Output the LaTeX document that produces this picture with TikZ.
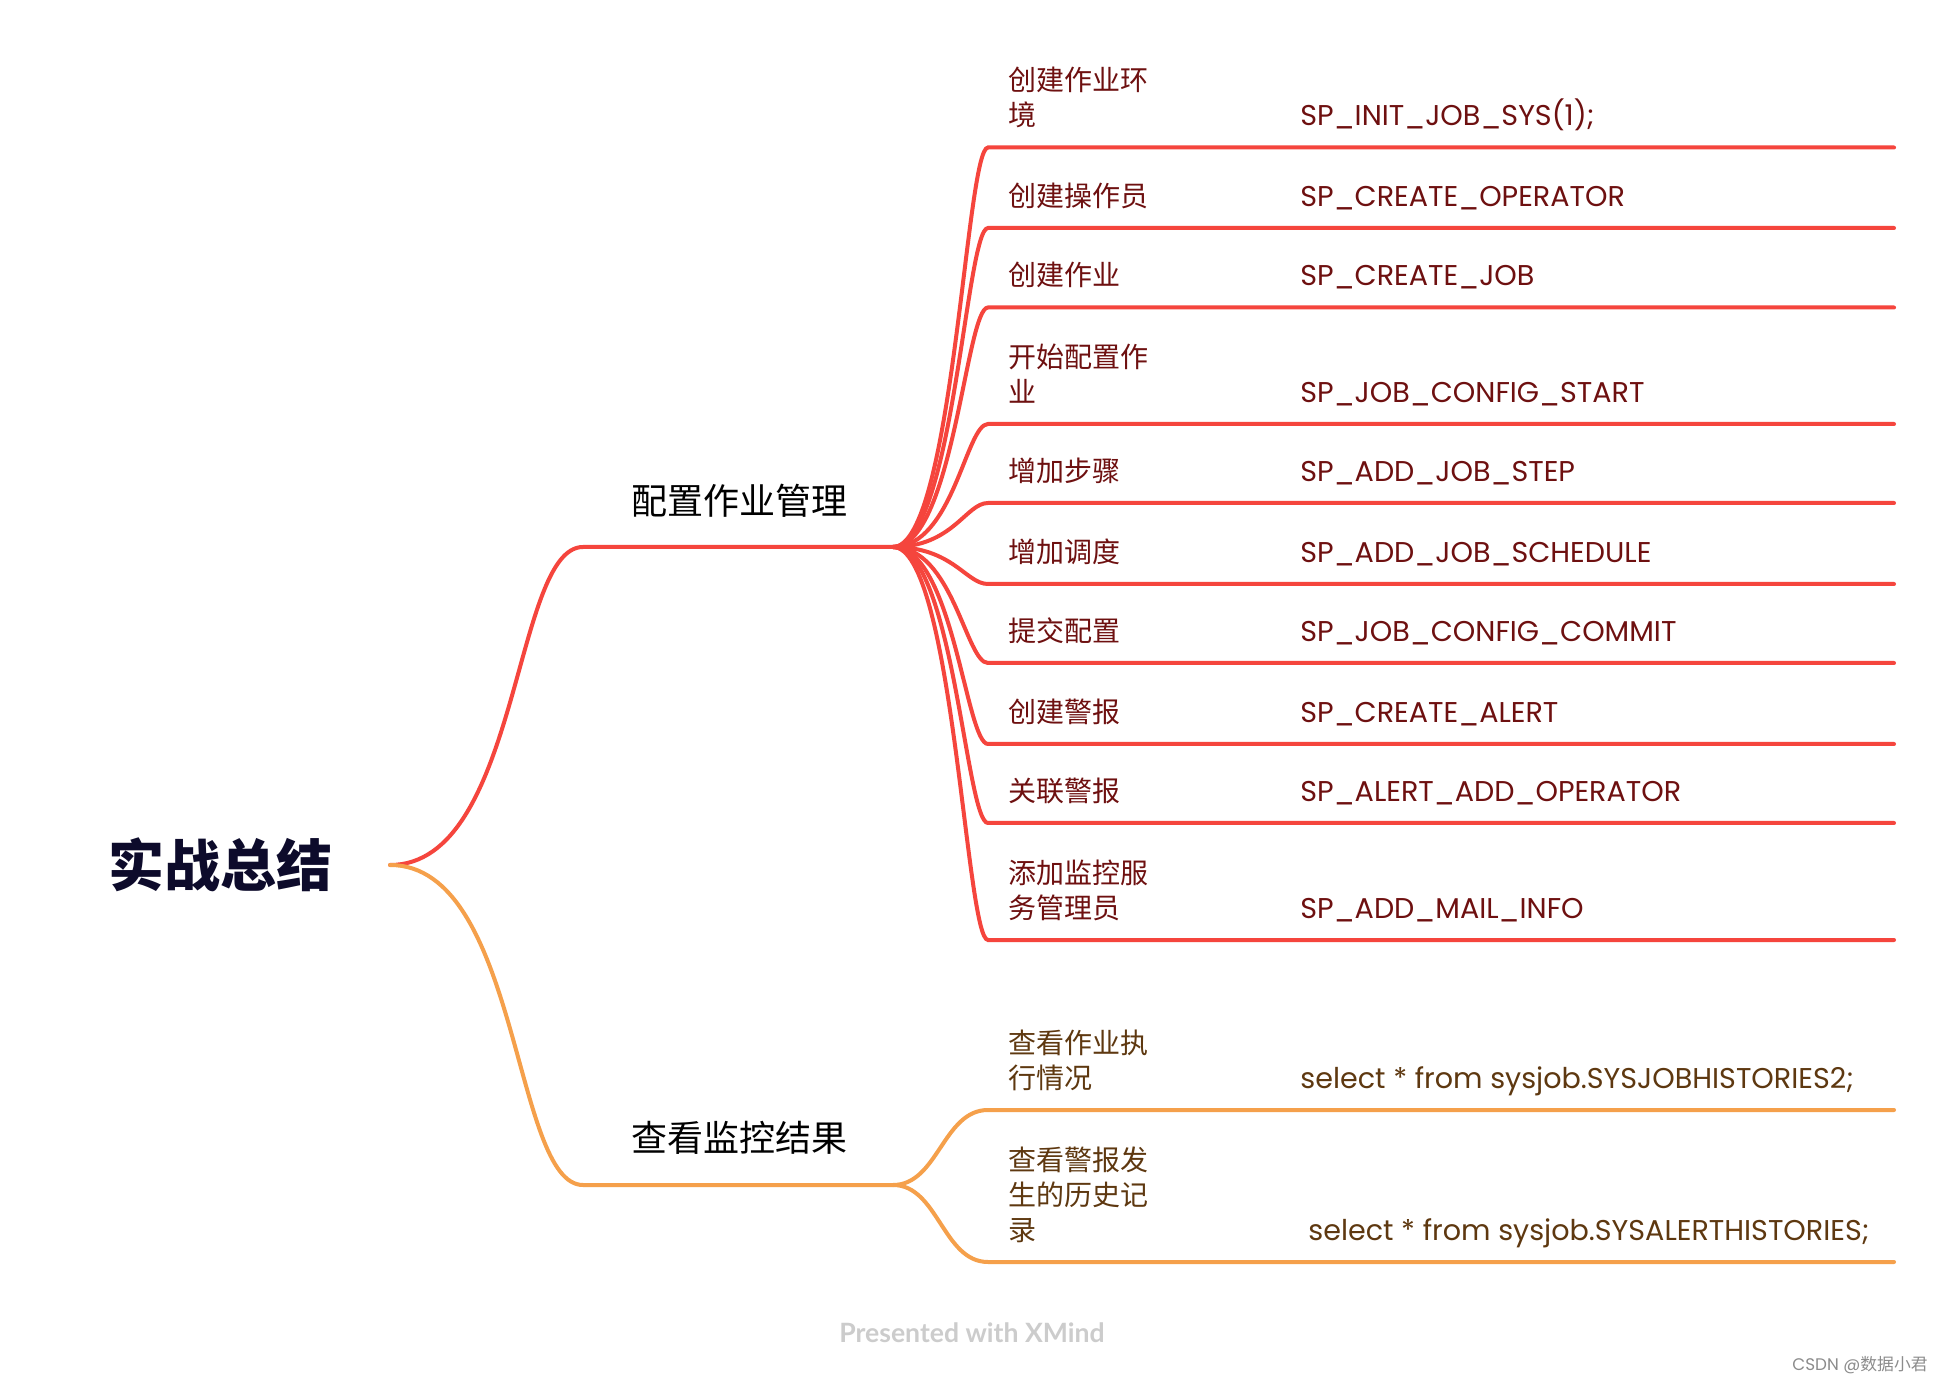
\documentclass[tikz,border=0pt]{standalone}
\usepackage{fontspec}
\setmainfont{Poppins}
\newfontfamily\cjk{Noto Sans CJK SC}
\newfontfamily\wmfont{Lato}
\newcommand\mylines[1]{\begin{tabular}[b]{@{}l@{}}#1\end{tabular}}
\definecolor{redline}{HTML}{F5453D}
\definecolor{orangeline}{HTML}{F5A04B}
\definecolor{redtext}{HTML}{6E1010}
\definecolor{orangetext}{HTML}{5E3810}
\definecolor{roottext}{HTML}{0D0B2B}
\begin{document}
\begin{tikzpicture}[x=0.5pt,y=-0.5pt,
  redconn/.style={draw=redline,line width=2pt,line cap=round},
  orangeconn/.style={draw=orangeline,line width=2pt,line cap=round},
  leaflabel/.style={inner sep=0pt,anchor=base west,font=\cjk\fontsize{14}{17.5}\selectfont},
  codetext/.style={inner sep=0pt,anchor=base west,font=\fontsize{14.3}{17.5}\selectfont},
  branchtext/.style={inner sep=0pt,anchor=center,font=\cjk\fontsize{18}{22}\selectfont,text=black},
]
\useasboundingbox (0,0) rectangle (1944,1384);
\fill[white] (0,0) rectangle (1944,1384);

% root
\node[inner sep=0pt,anchor=center,font=\cjk\bfseries\fontsize{28}{32}\selectfont,text=roottext] (root) at (220,865) {实战总结};
\coordinate (rootout) at (390,865);

% branches
\node[branchtext] (b1) at (739,501) {配置作业管理};
\node[branchtext] (b2) at (739,1138) {查看监控结果};
\coordinate (b1s) at (583,547);
\coordinate (b1e) at (893,547);
\coordinate (b2s) at (583,1185);
\coordinate (b2e) at (893,1185);

\draw[redconn] (rootout) .. controls +(130,0) and +(-70,0) .. (b1s) -- (b1e);
\draw[orangeconn] (rootout) .. controls +(130,0) and +(-70,0) .. (b2s) -- (b2e);

% leaf line coordinates
\foreach \i/\yy in {1/147.5,2/228,3/307.5,4/424,5/503,6/584,7/663,8/744,9/823,10/940,11/1110,12/1262}{
  \coordinate (s\i) at (988,\yy);
  \coordinate (e\i) at (1894,\yy);
}
\foreach \i in {1,...,10}{
  \draw[redconn] (b1e) .. controls +(60,0) and +(-22,0) .. (s\i) -- (e\i);
}
\foreach \i in {11,12}{
  \draw[orangeconn] (b2e) .. controls +(45,0) and +(-45,0) .. (s\i) -- (e\i);
}

% leaf labels (baseline of last line at line y - 21.5)
\node[leaflabel,text=redtext] (l1) at (1008,126) {\mylines{创建作业环\\境}};
\node[codetext,text=redtext] (c1) at (1300,126) {SP\_INIT\_JOB\_SYS(1);};
\node[leaflabel,text=redtext] (l2) at (1008,206.5) {创建操作员};
\node[codetext,text=redtext] (c2) at (1300,206.5) {SP\_CREATE\_OPERATOR};
\node[leaflabel,text=redtext] (l3) at (1008,286) {创建作业};
\node[codetext,text=redtext] (c3) at (1300,286) {SP\_CREATE\_JOB};
\node[leaflabel,text=redtext] (l4) at (1008,402.5) {\mylines{开始配置作\\业}};
\node[codetext,text=redtext] (c4) at (1300,402.5) {SP\_JOB\_CONFIG\_START};
\node[leaflabel,text=redtext] (l5) at (1008,481.5) {增加步骤};
\node[codetext,text=redtext] (c5) at (1300,481.5) {SP\_ADD\_JOB\_STEP};
\node[leaflabel,text=redtext] (l6) at (1008,562.5) {增加调度};
\node[codetext,text=redtext] (c6) at (1300,562.5) {SP\_ADD\_JOB\_SCHEDULE};
\node[leaflabel,text=redtext] (l7) at (1008,641.5) {提交配置};
\node[codetext,text=redtext] (c7) at (1300,641.5) {SP\_JOB\_CONFIG\_COMMIT};
\node[leaflabel,text=redtext] (l8) at (1008,722.5) {创建警报};
\node[codetext,text=redtext] (c8) at (1300,722.5) {SP\_CREATE\_ALERT};
\node[leaflabel,text=redtext] (l9) at (1008,801.5) {关联警报};
\node[codetext,text=redtext] (c9) at (1300,801.5) {SP\_ALERT\_ADD\_OPERATOR};
\node[leaflabel,text=redtext] (l10) at (1008,918.5) {\mylines{添加监控服\\务管理员}};
\node[codetext,text=redtext] (c10) at (1300,918.5) {SP\_ADD\_MAIL\_INFO};
\node[leaflabel,text=orangetext] (l11) at (1008,1088.5) {\mylines{查看作业执\\行情况}};
\node[codetext,text=orangetext] (c11) at (1300,1088.5) {select * from sysjob.SYSJOBHISTORIES2;};
\node[leaflabel,text=orangetext] (l12) at (1008,1240.5) {\mylines{查看警报发\\生的历史记\\录}};
\node[codetext,text=orangetext] (c12) at (1308,1240.5) {select * from sysjob.SYSALERTHISTORIES;};

% footer
\node[inner sep=0pt,anchor=center,font=\wmfont\bfseries\fontsize{13.3}{15}\selectfont,text=black!20] (wm) at (972,1333) {Presented with XMind};
\node[inner sep=0pt,anchor=east,font=\fontsize{8.4}{10}\selectfont,text=black!45] (csdn) at (1928,1365) {CSDN @{\cjk 数据小君}};
\end{tikzpicture}
\end{document}
